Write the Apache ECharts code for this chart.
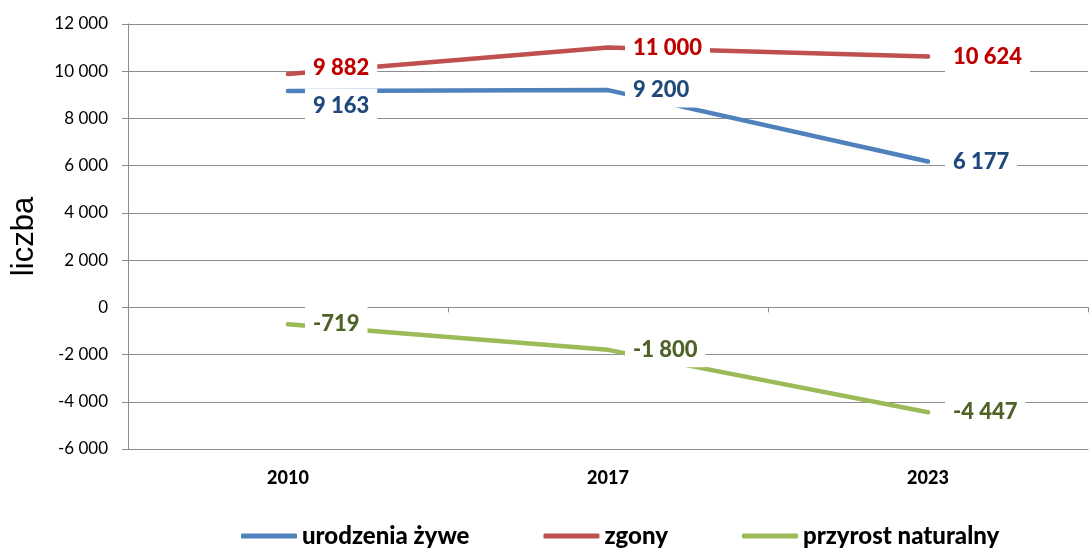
<!DOCTYPE html>
<html>
<head>
<meta charset="utf-8">
<script src="https://cdn.jsdelivr.net/npm/echarts@6/dist/echarts.min.js"></script>
<style>
html,body{margin:0;padding:0;background:#fff;}
#chart{width:1089px;height:549px;}
</style>
</head>
<body>
<div id="chart"></div>
<script>
const categories = ['2010', '2017', '2023'];
const seriesNames = ['urodzenia żywe', 'zgony', 'przyrost naturalny'];
const births = [9163, 9200, 6177];
const deaths = [9882, 11000, 10624];
const naturalIncrease = [-719, -1800, -4447];
const yTicks = [-6000, -4000, -2000, 0, 2000, 4000, 6000, 8000, 10000, 12000];

const lineColors = ['#4F81BD', '#C0504D', '#9BBB59'];
const labelColors = ['#1F497D', '#C00000', '#4F6228'];
const FONT = 'Lato, "Open Sans", sans-serif';

function fmt(v) {
  const s = String(Math.abs(v)).replace(/\B(?=(\d{3})+(?!\d))/g, ' ');
  return (v < 0 ? '-' : '') + s;
}

function makeSeries(name, values, idx, offsets) {
  return {
    name: name,
    type: 'line',
    xAxisIndex: 0,
    data: values.map((v, i) => {
      const item = { value: v };
      if (offsets && offsets[i]) item.label = { offset: offsets[i] };
      return item;
    }),
    symbol: 'circle',
    symbolSize: 4,
    itemStyle: { color: lineColors[idx] },
    lineStyle: { color: lineColors[idx], width: 4.5, cap: 'round', join: 'round' },
    label: {
      show: true,
      position: 'right',
      distance: 15,
      formatter: p => fmt(p.value),
      color: labelColors[idx],
      fontFamily: FONT,
      fontWeight: 900,
      fontSize: 22,
      lineHeight: 27,
      backgroundColor: '#ffffff',
      padding: [4, 8, 4, 8]
    },
    emphasis: { disabled: true },
    animation: false
  };
}

const chart = echarts.init(document.getElementById('chart'), null, { renderer: 'canvas' });
chart.setOption({
  animation: false,
  grid: { left: 128, right: 1, top: 24, bottom: 100, containLabel: false },
  legend: {
    left: 236,
    top: 519,
    itemWidth: 56,
    itemHeight: 5,
    itemGap: 74,
    icon: 'roundRect',
    textStyle: { fontFamily: FONT, fontWeight: 900, fontSize: 24, color: '#000' },
    data: seriesNames
  },
  xAxis: [
    {
      type: 'category',
      position: 'bottom',
      data: categories,
      boundaryGap: true,
      axisLine: { onZero: false, show: true, lineStyle: { color: '#8c8c8c', width: 1 } },
      axisTick: { show: false },
      axisLabel: { fontFamily: FONT, fontWeight: 900, fontSize: 18, color: '#000', margin: 20 }
    },
    {
      type: 'category',
      position: 'top',
      data: categories,
      boundaryGap: true,
      axisLine: { onZero: true, show: true, lineStyle: { color: '#8c8c8c', width: 1 } },
      axisTick: { show: true, inside: true, length: 5, lineStyle: { color: '#8c8c8c' } },
      axisLabel: { show: false }
    }
  ],
  yAxis: {
    type: 'value',
    min: yTicks[0],
    max: yTicks[yTicks.length - 1],
    interval: 2000,
    name: 'liczba',
    nameLocation: 'middle',
    nameGap: 88,
    nameTextStyle: { fontFamily: '"Liberation Sans", Arial, sans-serif', fontSize: 31, color: '#000' },
    axisLine: { show: true, lineStyle: { color: '#8c8c8c', width: 1 } },
    axisTick: { show: true, length: 6, lineStyle: { color: '#8c8c8c' } },
    axisLabel: { fontFamily: FONT, fontSize: 17, color: '#000', margin: 20, formatter: v => fmt(v) },
    splitLine: { show: true, lineStyle: { color: '#8c8c8c', width: 1 } }
  },
  series: [
    makeSeries(seriesNames[0], births, 0, [[0, 15], null, null]),
    makeSeries(seriesNames[1], deaths, 1, [[0, -6], null, null]),
    makeSeries(seriesNames[2], naturalIncrease, 2, null)
  ]
});
</script>
</body>
</html>
